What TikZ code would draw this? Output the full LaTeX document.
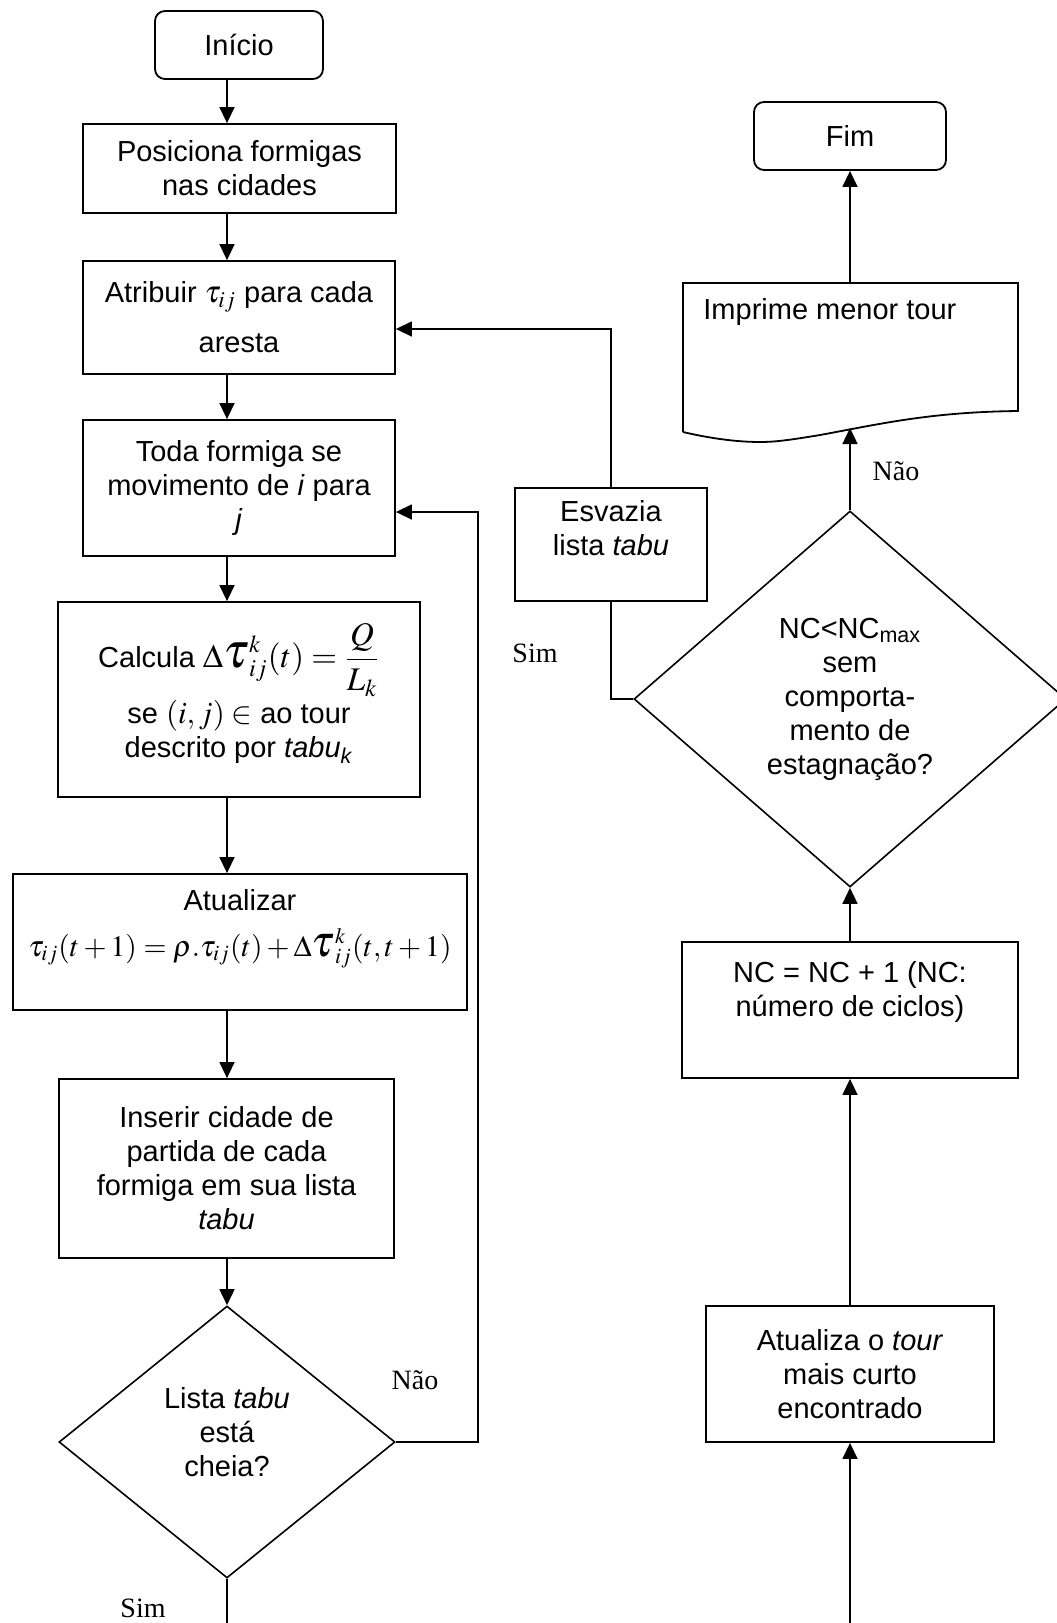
\documentclass[tikz,border=0pt]{standalone}
\usepackage{amsmath}
\usepackage{mathptmx}
\usepackage[no-math]{fontspec}
\setmainfont{Liberation Sans}
\newfontfamily\serifa{Liberation Serif}
\usetikzlibrary{
    shapes.geometric,
    arrows.meta,
    positioning,
    calc
}
\newcommand{\tauG}{\mathord{\scalebox{1.5}{$\tau$}}}

\begin{document}
\begin{tikzpicture}[
        x=0.5pt, y=-0.5pt,
        font=\fontsize{14.5}{17}\selectfont,
        box/.style={rectangle, draw, line width=0.9pt, align=center, inner sep=2pt},
        term/.style={box, rounded corners=5pt},
        decision/.style={diamond, draw, line width=0.8pt, align=center, inner sep=0pt},
        arrow/.style={-{Triangle[length=8pt,width=7.5pt]}, line width=0.75pt},
        linha/.style={line width=0.75pt},
        resposta/.style={font=\serifa\fontsize{14}{16}\selectfont}
    ]
        \useasboundingbox (0,0) rectangle (1056,1623);

        % Coluna esquerda
        \node[term, minimum width=84pt, minimum height=34pt] (inicio) at (239,45) {Início};
        \node[box, minimum width=156.5pt, minimum height=44.5pt] (posiciona) at (239.5,168.5) {Posiciona formigas\\nas cidades};
        \node[box, minimum width=156pt, minimum height=56.5pt] (atribuir) at (239,317.5) {Atribuir {\fontsize{15.5}{18}\selectfont$\tau_{ij}$} para cada\\[8pt]aresta};
        \node[box, minimum width=156pt, minimum height=68pt] (toda) at (239,488) {Toda formiga se\\movimento de \textit{i} para\\\textit{j}};
        \node[box, minimum width=181pt, minimum height=97.5pt] (calcula) at (239,699.5) {Calcula {\fontsize{16.5}{19}\selectfont$\Delta\tauG^{k}_{ij}(t)=\dfrac{Q}{L_k}$}\\[1pt]se {\fontsize{15.5}{18}\selectfont$(i,j)\in$} ao tour\\descrito por \textit{tabu}\textsubscript{\textit{k}}\\[-8pt]\mbox{}};
        \node[box, minimum width=227pt, minimum height=68pt] (atualizar) at (240,942) {Atualizar\\[6pt]{\fontsize{14.8}{18}\selectfont$\tau_{ij}(t+1)=\rho.\tau_{ij}(t)+\Delta\tauG^{k}_{ij}(t,t+1)$}\\[2pt]\mbox{}};
        \node[box, minimum width=167.5pt, minimum height=89.5pt] (inserir) at (226.5,1168.5) {Inserir cidade de\\partida de cada\\formiga em sua lista\\\textit{tabu}};
        \node[decision, minimum width=168pt, minimum height=136pt] (lista) at (227,1442) {Lista \textit{tabu}\\está\\cheia?\\[-7pt]\mbox{}};

        % Coluna direita
        \node[term, minimum width=96pt, minimum height=34pt] (fim) at (850,136) {Fim};
        \node[anchor=west, inner sep=0pt] (imprime) at (703,312) {Imprime menor tour};
        \draw[line width=0.9pt] (683,432) -- (683,283) -- (1018,283) -- (1018,411)
            .. controls (930,412) and (880,424) .. (820,435)
            .. controls (790,440) and (775,442) .. (760,442)
            .. controls (730,442) and (700,436) .. (683,432);
        \node[decision, minimum width=216pt, minimum height=188pt] (cond) at (850,699) {NC<NC\textsubscript{max}\\sem\\comporta-\\mento de\\estagnação?};
        \node[box, minimum width=168pt, minimum height=68pt] (nc) at (850,1010) {NC = NC + 1 (NC:\\número de ciclos)\\[4pt]\mbox{}};
        \node[box, minimum width=144pt, minimum height=68pt] (atualiza) at (850,1374) {Atualiza o \textit{tour}\\mais curto\\encontrado};
        \node[box, minimum width=96pt, minimum height=56.5pt] (esvazia) at (611,544.5) {Esvazia\\lista \textit{tabu}\\\mbox{}};

        % Pontos auxiliares
        \coordinate (colL) at (227,0);
        \coordinate (retorno) at (478,512);
        \coordinate (volta) at (0,329);
        \coordinate (baseL) at (227,1625);
        \coordinate (baseR) at (850,1625);
        \coordinate (docbase) at (850,428);
        \coordinate (doctopo) at (850,283);

        % Fluxo principal
        \draw[arrow] (inicio.south -| colL) -- (posiciona.north -| colL);
        \draw[arrow] (posiciona.south -| colL) -- (atribuir.north -| colL);
        \draw[arrow] (atribuir.south -| colL) -- (toda.north -| colL);
        \draw[arrow] (toda.south -| colL) -- (calcula.north -| colL);
        \draw[arrow] (calcula.south -| colL) -- (atualizar.north -| colL);
        \draw[arrow] (atualizar.south -| colL) -- (inserir.north -| colL);
        \draw[arrow] (inserir.south -| colL) -- (lista.north);
        \draw[arrow] (lista.east) -| (retorno) -- (retorno -| toda.east);
        \draw[linha] (lista.south) -- (baseL);

        \draw[arrow] (baseR) -- (atualiza.south);
        \draw[arrow] (atualiza) -- (nc);
        \draw[arrow] (nc) -- (cond);
        \draw[arrow] (cond.north) -- (docbase);
        \draw[arrow] (doctopo) -- (fim.south);
        \draw[linha] (cond.west) -| (esvazia.south);
        \draw[arrow] (esvazia.north) |- (volta -| atribuir.east);

        % Respostas
        \node[resposta] (simL) at (143,1608) {Sim};
        \node[resposta] (naoL) at (415,1380) {Não};
        \node[resposta] (simR) at (535,653) {Sim};
        \node[resposta] (naoR) at (896,471) {Não};
    \end{tikzpicture}
\end{document}
